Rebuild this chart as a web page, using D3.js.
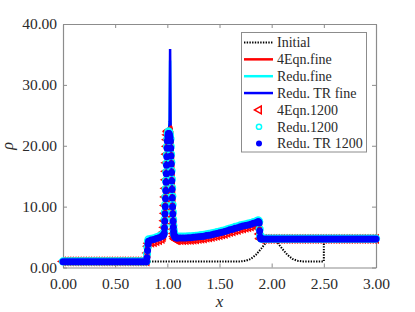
<!DOCTYPE html>
<html><head><meta charset="utf-8">
<script src="https://cdn.jsdelivr.net/npm/d3@7/dist/d3.min.js"></script>
<style>
html,body{margin:0;padding:0;background:#fff;}
svg{display:block;}
svg text{font-family:"Liberation Serif",serif !important;}
</style></head>
<body>
<svg id="chart" width="415" height="312"></svg>
<script>
// ---- data ----
const xTicks = [0, 0.5, 1.0, 1.5, 2.0, 2.5, 3.0];
const yTicks = [0, 10, 20, 30, 40];
const legendLabels = ["Initial", "4Eqn.fine", "Redu.fine", "Redu. TR fine", "4Eqn.1200", "Redu.1200", "Redu. TR 1200"];

// initial condition (dotted)
const initX = [0, 1.7, 1.75, 1.8, 1.85, 1.9, 1.95, 2.0, 2.05, 2.1, 2.15, 2.2, 2.25, 2.3, 2.5, 2.5, 3.0];
const initY = [1.0, 1.0, 1.1, 1.4, 2.1, 3.1, 4.2, 4.6, 4.2, 3.1, 2.1, 1.4, 1.1, 1.0, 1.0, 4.3, 4.3];

// fine-grid solutions
const fineTRX = [0,0.8,0.805,0.81,0.815,0.82,0.85,0.9,0.95,0.97,0.985,1.0,1.015,1.022,1.0265,1.031,1.04,1.05,1.06,1.07,1.09,1.2,1.3,1.4,1.5,1.6,1.7,1.8,1.87,1.88,1.885,1.89,1.9,3.0];
const fineTRY = [0.95,0.95,1.6,2.8,3.8,4.3,4.5,4.75,5.1,5.6,12.6,20.8,22.0,24,35.9,24,15.6,10,5.9,5.1,4.85,4.9,5.05,5.3,5.7,6.2,6.7,7.1,7.5,7.3,6.0,5.0,4.7,4.7];
const fineReduY = [1.0,1.0,2.2,3.3,4.3,4.6,4.7,4.95,5.3,5.9,12.9,21.1,22.3,24,34,24,15.9,10.3,6.2,5.3,5.05,5.1,5.25,5.5,5.9,6.4,6.9,7.3,7.7,7.5,6.3,5.3,4.75,4.75];
const fine4EqnX = [0,0.8,0.805,0.81,0.815,0.82,0.85,0.9,0.95,0.965,0.975,0.985,0.995,1.005,1.02,1.03,1.04,1.05,1.06,1.07,1.08,1.1,1.2,1.3,1.4,1.5,1.6,1.7,1.8,1.87,1.88,1.885,1.89,3.0];
const fine4EqnY = [1.0,1.0,1.3,2.4,3.5,4.0,4.1,4.35,4.7,6.0,10,15.5,20.5,22.3,22.5,21.8,16.4,10.8,6.3,4.8,4.6,4.5,4.55,4.7,4.95,5.35,5.85,6.35,6.75,7.1,6.6,5.5,4.7,4.7];

// 1200-cell solutions (marker positions)
const markX = [
 0,0.025,0.05,0.075,0.1,0.125,0.15,0.175,0.2,0.225,0.25,0.275,0.3,0.325,0.35,0.375,0.4,0.425,0.45,0.475,0.5,0.525,0.55,0.575,0.6,0.625,0.65,0.675,0.7,0.725,0.75,0.775,0.8,
 0.805,0.81,0.815,0.82,
 0.845,0.87,0.895,0.92,0.945,
 0.955,0.96,0.965,
 0.97,0.9725,0.975,0.9775,0.98,0.9825,0.985,0.9875,0.99,0.9925,0.995,0.9975,1.0,1.005,1.01,1.015,1.02,1.025,1.03,1.0325,1.035,1.0375,1.04,1.0425,1.045,1.0475,1.05,1.0525,1.055,1.0575,1.06,1.0625,1.065,1.07,1.075,1.08,
 1.09,
 1.1,1.125,1.15,1.175,1.2,1.225,1.25,1.275,1.3,1.325,1.35,1.375,1.4,1.425,1.45,1.475,1.5,1.525,1.55,1.575,1.6,1.625,1.65,1.675,1.7,1.725,1.75,1.775,1.8,1.825,1.85,
 1.86,1.87,1.875,1.88,1.885,1.89,1.895,
 1.9,1.925,1.95,1.975,2.0,2.025,2.05,2.075,2.1,2.125,2.15,2.175,2.2,2.225,2.25,2.275,2.3,2.325,2.35,2.375,2.4,2.425,2.45,2.475,2.5,2.525,2.55,2.575,2.6,2.625,2.65,2.675,2.7,2.725,2.75,2.775,2.8,2.825,2.85,2.875,2.9,2.925,2.95,2.975,3.0
];
const mark4EqnY = [
 1,1,1,1,1,1,1,1,1,1,1,1,1,1,1,1,1,1,1,1,1,1,1,1,1,1,1,1,1,1,1,1,1,
 1.3,2.4,3.5,4.0,
 4.1,4.2,4.35,4.5,4.7,
 5.0,5.3,5.8,
 6.6,7.7,8.9,10.2,11.6,13.0,14.4,15.8,17.2,18.6,19.9,21.0,21.8,22.3,22.5,22.5,22.4,22.2,21.6,20.5,19.2,17.8,16.4,15,13.6,12.2,10.8,9.5,8.3,7.2,6.3,5.6,5.1,4.8,4.7,4.6,
 4.5,
 4.5,4.5,4.5,4.5,4.55,4.55,4.6,4.65,4.7,4.75,4.8,4.9,4.95,5.05,5.15,5.25,5.35,5.45,5.55,5.7,5.85,5.95,6.1,6.2,6.35,6.45,6.55,6.65,6.75,6.9,7.0,
 7.1,7.15,7.1,6.6,5.5,4.8,4.7,
 4.7,4.7,4.7,4.7,4.7,4.7,4.7,4.7,4.7,4.7,4.7,4.7,4.7,4.7,4.7,4.7,4.7,4.7,4.7,4.7,4.7,4.7,4.7,4.7,4.7,4.7,4.7,4.7,4.7,4.7,4.7,4.7,4.7,4.7,4.7,4.7,4.7,4.7,4.7,4.7,4.7,4.7,4.7,4.7,4.7
];
const markReduY = [
 1,1,1,1,1,1,1,1,1,1,1,1,1,1,1,1,1,1,1,1,1,1,1,1,1,1,1,1,1,1,1,1,1,
 2.2,3.3,4.3,4.6,
 4.7,4.8,4.95,5.1,5.3,
 5.4,5.5,5.6,
 5.9,6.8,7.9,9.1,10.3,11.6,12.9,14.3,15.7,17.1,18.5,19.9,21.1,21.9,22.3,22.3,22.1,21.7,21.1,19.9,18.6,17.3,15.9,14.5,13.1,11.7,10.3,9.1,7.9,6.9,6.2,5.8,5.5,5.3,5.2,5.1,
 5.05,
 5.05,5.05,5.05,5.05,5.1,5.1,5.15,5.2,5.25,5.3,5.35,5.45,5.5,5.6,5.7,5.8,5.9,6.0,6.1,6.25,6.4,6.5,6.65,6.75,6.9,7.0,7.1,7.2,7.3,7.45,7.55,
 7.65,7.7,7.7,7.5,6.3,5.3,4.9,
 4.75,4.75,4.75,4.75,4.75,4.75,4.75,4.75,4.75,4.75,4.75,4.75,4.75,4.75,4.75,4.75,4.75,4.75,4.75,4.75,4.75,4.75,4.75,4.75,4.75,4.75,4.75,4.75,4.75,4.75,4.75,4.75,4.75,4.75,4.75,4.75,4.75,4.75,4.75,4.75,4.75,4.75,4.75,4.75,4.75
];
const markTRY = [
 0.95,0.95,0.95,0.95,0.95,0.95,0.95,0.95,0.95,0.95,0.95,0.95,0.95,0.95,0.95,0.95,0.95,0.95,0.95,0.95,0.95,0.95,0.95,0.95,0.95,0.95,0.95,0.95,0.95,0.95,0.95,0.95,0.95,
 1.6,2.8,3.8,4.3,
 4.5,4.6,4.75,4.9,5.1,
 5.2,5.3,5.4,
 5.6,6.5,7.6,8.8,10.0,11.3,12.6,14.0,15.4,16.8,18.2,19.6,20.8,21.6,22.0,22.0,21.8,21.4,20.8,19.6,18.3,17.0,15.6,14.2,12.8,11.4,10.0,8.8,7.6,6.6,5.9,5.5,5.3,5.1,5.0,4.9,
 4.85,
 4.85,4.85,4.85,4.85,4.9,4.9,4.95,5.0,5.05,5.1,5.15,5.25,5.3,5.4,5.5,5.6,5.7,5.8,5.9,6.05,6.2,6.3,6.45,6.55,6.7,6.8,6.9,7.0,7.1,7.25,7.35,
 7.45,7.5,7.5,7.3,6.0,5.0,4.75,
 4.7,4.7,4.7,4.7,4.7,4.7,4.7,4.7,4.7,4.7,4.7,4.7,4.7,4.7,4.7,4.7,4.7,4.7,4.7,4.7,4.7,4.7,4.7,4.7,4.7,4.7,4.7,4.7,4.7,4.7,4.7,4.7,4.7,4.7,4.7,4.7,4.7,4.7,4.7,4.7,4.7,4.7,4.7,4.7,4.7
];

// ---- drawing ----
const FONT = "'Liberation Serif', serif";
const svg = d3.select("#chart");
const L = 63, R = 376, T = 24, B = 267.5;
const x = d3.scaleLinear().domain([0, 3]).range([L, R]);
const y = d3.scaleLinear().domain([0, 40]).range([B, T]);
const frameColor = "#8c8c8c", textColor = "#2a2a2a";

function pts(xs, ys) { const n = Math.min(xs.length, ys.length); const a = []; for (let i = 0; i < n; i++) a.push([xs[i], ys[i]]); return a; }
const line = d3.line().x(d => x(d[0])).y(d => y(d[1]));

// axes
function styleAxis(g) {
  g.attr("font-family", FONT).attr("font-size", 15.5);
  g.selectAll(".domain").attr("stroke", frameColor).attr("stroke-width", 1.2);
  g.selectAll(".tick line").attr("stroke", frameColor).attr("stroke-width", 1);
  g.selectAll(".tick text").attr("fill", textColor).style("font-family", FONT).style("font-size", "15.5px");
}
svg.append("g").attr("transform", `translate(0,${B})`)
  .call(d3.axisBottom(x).tickValues(xTicks).tickFormat(d3.format(".2f")).tickSize(-4).tickSizeOuter(0).tickPadding(10))
  .call(styleAxis);
svg.append("g").attr("transform", `translate(0,${T})`)
  .call(d3.axisTop(x).tickValues(xTicks).tickFormat("").tickSize(-4).tickSizeOuter(0))
  .call(styleAxis);
svg.append("g").attr("transform", `translate(${L},0)`)
  .call(d3.axisLeft(y).tickValues(yTicks).tickFormat(d3.format(".2f")).tickSize(-4).tickSizeOuter(0).tickPadding(6))
  .call(styleAxis);
svg.append("g").attr("transform", `translate(${R},0)`)
  .call(d3.axisRight(y).tickValues(yTicks).tickFormat("").tickSize(-4).tickSizeOuter(0))
  .call(styleAxis);

// axis titles
svg.append("text").attr("x", (L + R) / 2).attr("y", 307).attr("text-anchor", "middle")
  .style("font-family", FONT).attr("font-style", "italic").attr("font-size", 17).attr("fill", textColor).text("x");
svg.append("text").attr("transform", "translate(13,146) rotate(-90)").attr("text-anchor", "middle")
  .style("font-family", FONT).attr("font-style", "italic").attr("font-size", 16).attr("fill", textColor).text("ρ");

// lines
const plot = svg.append("g");
plot.append("path").attr("d", line(pts(initX, initY))).attr("fill", "none")
  .attr("stroke", "#000").attr("stroke-width", 2).attr("stroke-dasharray", "1.4,1.3");
plot.append("path").attr("d", line(pts(fine4EqnX, fine4EqnY))).attr("fill", "none")
  .attr("stroke", "#ff0000").attr("stroke-width", 2.5);
plot.append("path").attr("d", line(pts(fineTRX, fineReduY))).attr("fill", "none")
  .attr("stroke", "#00ffff").attr("stroke-width", 2.5);
plot.append("path").attr("d", line(pts(fineTRX, fineTRY))).attr("fill", "none")
  .attr("stroke", "#0000ff").attr("stroke-width", 2.5);

// markers
const triS = 4.5;
const triPath = `M${-triS},0L${triS * 0.5},${-triS * 0.866}L${triS * 0.5},${triS * 0.866}Z`;
plot.append("g").selectAll("path").data(pts(markX, mark4EqnY)).join("path")
  .attr("d", triPath).attr("transform", d => `translate(${x(d[0])},${y(d[1])})`)
  .attr("fill", "none").attr("stroke", "#ff0000").attr("stroke-width", 1.5);
plot.append("g").selectAll("circle").data(pts(markX, markReduY)).join("circle")
  .attr("cx", d => x(d[0])).attr("cy", d => y(d[1])).attr("r", 3.4)
  .attr("fill", "none").attr("stroke", "#00ffff").attr("stroke-width", 1.5);
plot.append("g").selectAll("circle").data(pts(markX, markTRY)).join("circle")
  .attr("cx", d => x(d[0])).attr("cy", d => y(d[1])).attr("r", 3.5)
  .attr("fill", "#0000ff");

// legend
const lg = svg.append("g");
lg.append("rect").attr("x", 241.5).attr("y", 32.5).attr("width", 125).attr("height", 119.5)
  .attr("fill", "#fff").attr("stroke", frameColor).attr("stroke-width", 1);
const rowY = i => 42.5 + i * 16.85;
legendLabels.forEach((lab, i) => {
  const cy = rowY(i);
  if (i === 0) {
    lg.append("line").attr("x1", 244).attr("x2", 273).attr("y1", cy).attr("y2", cy)
      .attr("stroke", "#000").attr("stroke-width", 2).attr("stroke-dasharray", "1.4,1.3");
  } else if (i <= 3) {
    const c = ["#ff0000", "#00ffff", "#0000ff"][i - 1];
    lg.append("line").attr("x1", 244).attr("x2", 273).attr("y1", cy).attr("y2", cy)
      .attr("stroke", c).attr("stroke-width", 2.5);
  } else if (i === 4) {
    lg.append("path").attr("d", triPath).attr("transform", `translate(259,${cy})`)
      .attr("fill", "none").attr("stroke", "#ff0000").attr("stroke-width", 1.5);
  } else if (i === 5) {
    lg.append("circle").attr("cx", 259).attr("cy", cy).attr("r", 2.6)
      .attr("fill", "none").attr("stroke", "#00ffff").attr("stroke-width", 1.5);
  } else {
    lg.append("circle").attr("cx", 259).attr("cy", cy).attr("r", 3).attr("fill", "#0000ff");
  }
  lg.append("text").attr("x", 277).attr("y", cy + 4.8).attr("font-size", 14)
    .style("font-family", FONT).attr("fill", textColor).text(lab);
});
</script>
</body></html>
